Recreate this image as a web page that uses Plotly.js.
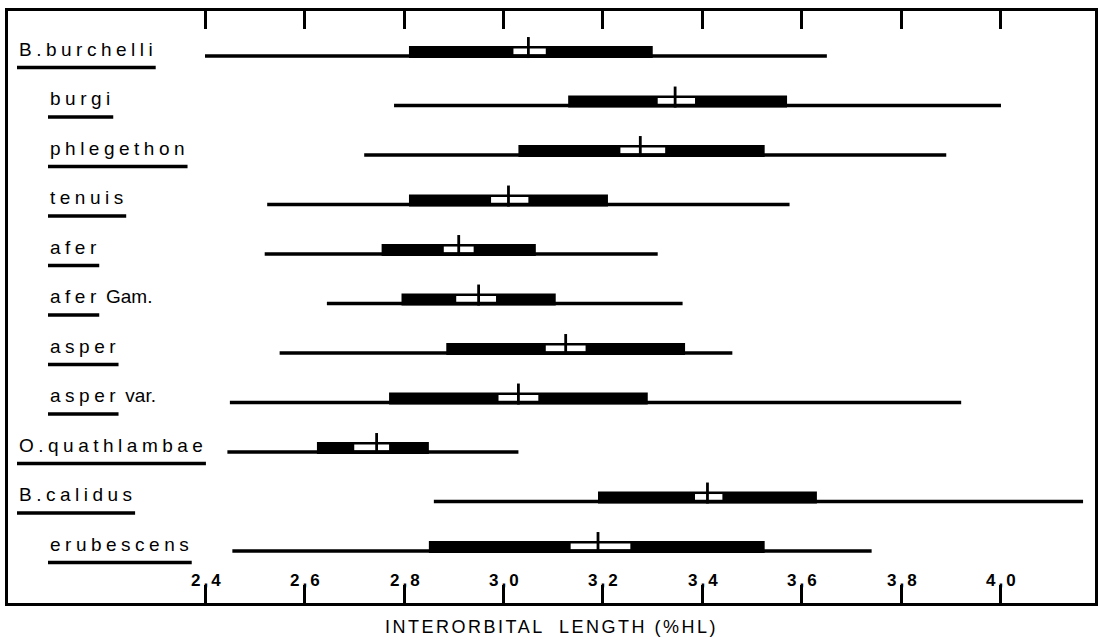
<!DOCTYPE html>
<html><head><meta charset="utf-8">
<script src="https://cdn.plot.ly/plotly-3.0.1.min.js"></script>
<style>html,body{margin:0;padding:0;background:#fff}#chart{width:1099px;height:643px}</style>
</head><body><div id="chart"></div>
<script>
// ---- data ----
const species  = ['B.burchelli','burgi','phlegethon','tenuis','afer','afer','asper','asper','O.quathlambae','B.calidus','erubescens'];
const suffix   = ['','','','','',' Gam.','',' var.','','',''];
const indent   = [0,1,1,1,1,1,1,1,0,0,1];
const rangeMin = [2.40, 2.78, 2.72, 2.525, 2.52, 2.645, 2.55, 2.45, 2.445, 2.86, 2.455];
const rangeMax = [3.65, 4.00, 3.89, 3.575, 3.31, 3.36, 3.46, 3.92, 3.03, 4.165, 3.74];
const sdLo     = [2.81, 3.13, 3.03, 2.81, 2.755, 2.795, 2.885, 2.77, 2.625, 3.19, 2.85];
const sdHi     = [3.30, 3.57, 3.525, 3.21, 3.065, 3.105, 3.365, 3.29, 2.85, 3.63, 3.525];
const ciLo     = [3.02, 3.31, 3.235, 2.975, 2.88, 2.905, 3.085, 2.99, 2.70, 3.385, 3.135];
const ciHi     = [3.085, 3.385, 3.325, 3.05, 2.94, 2.985, 3.165, 3.07, 2.77, 3.44, 3.255];
const mean     = [3.05, 3.345, 3.275, 3.01, 2.91, 2.95, 3.125, 3.03, 2.745, 3.41, 3.19];
const tickVals = [2.4, 2.6, 2.8, 3.0, 3.2, 3.4, 3.6, 3.8, 4.0];
const tickText = ['2,4','2,6','2,8','3,0','3,2','3,4','3,6','3,8','4,0'];
const xTitle   = 'INTERORBITAL  LENGTH (%HL)';

// ---- layout constants ----
const W = 1099, H = 643;
const margin = {l: 8, r: 4, t: 11, b: 40, pad: 0};
const xRange = [2.004, 4.189];
const yRange = [11.05, -0.91];
const FONT = '"Liberation Sans", Arial, sans-serif';
const pxPerRow = (H - margin.t - margin.b) / (yRange[0] - yRange[1]);
const u = p => p / pxPerRow;
const idx = species.map((_, i) => i);

// range lines
const lx = [], ly = [];
idx.forEach(i => { lx.push(rangeMin[i], rangeMax[i], null); ly.push(i, i, null); });
// mean ticks
const mx = [], my = [];
idx.forEach(i => { mx.push(mean[i], mean[i], null); my.push(i + u(2), i - u(19), null); });

const traces = [
  {type: 'bar', orientation: 'h', y: idx, base: sdLo, x: sdHi.map((v, i) => v - sdLo[i]),
   width: u(12), offset: -u(10), marker: {color: '#000', line: {width: 0}}, hoverinfo: 'skip'},
  {type: 'bar', orientation: 'h', y: idx, base: ciLo, x: ciHi.map((v, i) => v - ciLo[i]),
   width: u(6), offset: -u(7.5), marker: {color: '#fff', line: {width: 0}}, hoverinfo: 'skip'},
  {type: 'scatter', mode: 'lines', x: lx, y: ly, line: {color: '#000', width: 3.5}, hoverinfo: 'skip'},
  {type: 'scatter', mode: 'lines', x: mx, y: my, line: {color: '#000', width: 2.8}, hoverinfo: 'skip'}
];

// measure label widths for underlines
const ctx = document.createElement('canvas').getContext('2d');
const LS = 4.5, LFS = 19;
ctx.font = LFS + 'px "Liberation Sans"';

const annotations = [];
const shapes = [];
idx.forEach(i => {
  const xs = indent[i] ? 40 : 9;
  annotations.push({
    xref: 'paper', yref: 'y', x: 0, y: i, xanchor: 'left', yanchor: 'middle',
    xshift: xs, yshift: 7, showarrow: false,
    text: '<span style="letter-spacing:' + LS + 'px">' + species[i] + '</span>' + suffix[i],
    font: {family: FONT, size: LFS, color: '#000'}
  });
  const w = ctx.measureText(species[i]).width + LS * (species[i].length - 1);
  shapes.push({
    type: 'line', xref: 'paper', xsizemode: 'pixel', xanchor: 0, x0: xs, x1: xs + 5 + w,
    yref: 'y', ysizemode: 'pixel', yanchor: i, y0: -11.5, y1: -11.5,
    line: {color: '#000', width: 3.5}
  });
});
tickVals.forEach((v, k) => {
  annotations.push({
    xref: 'x', yref: 'paper', x: v, y: 0, xanchor: 'center', yanchor: 'middle',
    xshift: 2, yshift: 23, showarrow: false,
    text: '<span style="letter-spacing:3px">' + tickText[k] + '</span>',
    font: {family: FONT, size: 17, color: '#000', weight: 'bold'}
  });
});
annotations.push({
  xref: 'paper', yref: 'paper', x: 0.5, y: 0, xanchor: 'center', yanchor: 'middle',
  yshift: -24, showarrow: false,
  text: '<span style="letter-spacing:2.5px">' + xTitle + '</span>',
  font: {family: FONT, size: 18, color: '#000'}
});

const layout = {
  width: W, height: H, margin: margin,
  paper_bgcolor: '#fff', plot_bgcolor: '#fff',
  showlegend: false, barmode: 'overlay',
  xaxis: {range: xRange, showgrid: false, zeroline: false, showline: true, linewidth: 3,
          linecolor: '#000', mirror: 'allticks', ticks: 'inside', ticklen: 18, tickwidth: 3,
          tickcolor: '#000', tickmode: 'array', tickvals: tickVals, showticklabels: false, fixedrange: true},
  yaxis: {range: yRange, showgrid: false, zeroline: false, showline: true, linewidth: 3,
          linecolor: '#000', mirror: true, ticks: '', showticklabels: false, fixedrange: true},
  annotations: annotations,
  shapes: shapes
};

Plotly.newPlot('chart', traces, layout, {staticPlot: true, displayModeBar: false});
</script>
</body></html>
